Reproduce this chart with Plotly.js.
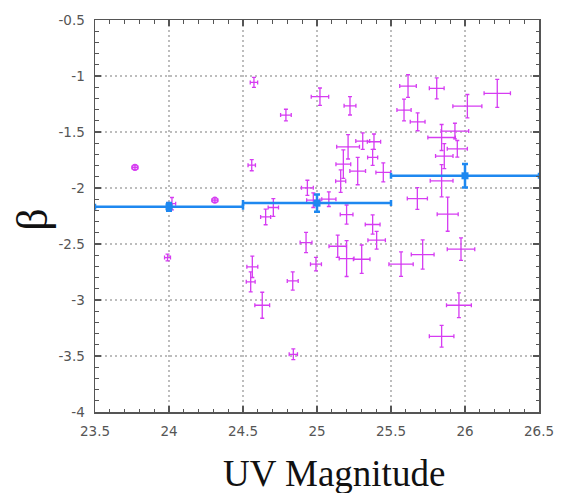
<!DOCTYPE html>
<html>
<head>
<meta charset="utf-8">
<script src="https://cdn.plot.ly/plotly-3.0.1.min.js"></script>
<style>html,body{margin:0;padding:0;background:#fff;}#chart{width:568px;height:493px;}</style>
</head>
<body>
<div id="chart"></div>
<script>
// Individual galaxies (crosses)
const magX = [24.02,24.574,24.79,24.559,24.653,24.705,24.563,24.552,24.63,24.836,24.84,23.99,
  25.02,25.223,25.21,25.309,25.385,25.376,25.178,25.275,25.448,25.16,24.935,24.975,25.08,
  25.2,25.376,25.403,24.926,25.14,25.2,25.302,25.568,24.993,
  25.615,25.809,26.218,26.016,25.588,25.68,25.932,25.842,25.948,25.86,25.842,25.678,25.883,
  25.714,25.973,25.959,25.842];
const magY = [-2.14,-1.057,-1.349,-1.796,-2.258,-2.174,-2.704,-2.838,-3.047,-2.83,-3.485,-2.621,
  -1.185,-1.266,-1.632,-1.581,-1.587,-1.727,-1.787,-1.849,-1.861,-1.939,-1.998,-2.109,-2.10,
  -2.237,-2.326,-2.466,-2.487,-2.52,-2.63,-2.636,-2.68,-2.68,
  -1.09,-1.11,-1.155,-1.269,-1.304,-1.409,-1.492,-1.549,-1.65,-1.715,-1.936,-2.094,-2.234,
  -2.594,-2.546,-3.047,-3.324];
const magXErr = [0.025,0.025,0.036,0.025,0.034,0.035,0.037,0.03,0.05,0.037,0.028,0.02,
  0.059,0.04,0.077,0.047,0.045,0.034,0.05,0.053,0.05,0.034,0.04,0.045,0.048,
  0.043,0.05,0.059,0.04,0.059,0.05,0.056,0.082,0.037,
  0.056,0.05,0.089,0.098,0.048,0.05,0.093,0.093,0.068,0.059,0.077,0.068,0.071,
  0.077,0.093,0.084,0.083];
const magYErr = [0.055,0.045,0.052,0.05,0.07,0.08,0.095,0.09,0.116,0.082,0.048,0.03,
  0.078,0.082,0.109,0.074,0.069,0.071,0.127,0.122,0.085,0.1,0.067,0.065,0.065,
  0.085,0.086,0.079,0.09,0.1,0.16,0.127,0.109,0.06,
  0.101,0.094,0.125,0.104,0.097,0.08,0.07,0.116,0.074,0.112,0.144,0.097,0.152,
  0.131,0.1,0.11,0.097];
// Bright sources with tiny errors (circles)
const brightX = [23.77,24.31];
const brightY = [-1.816,-2.109];
const brightErr = [0.02,0.02];
// Binned averages
const binX = [24.0,25.0,26.0];
const binY = [-2.168,-2.135,-1.891];
const binHalfWidth = [0.5,0.5,0.5];
const binYErr = [0.035,0.076,0.105];
// Tick labels
const yTickVals = [-4,-3.5,-3,-2.5,-2,-1.5,-1,-0.5];
const yTickText = ['-4','-3.5','-3','-2.5','-2','-1.5','-1','-0.5'];

const magenta = '#d63cf2';
const blue = '#1e88f0';

const traces = [
  {x: magX, y: magY, type:'scatter', mode:'markers',
   marker:{size:1, color:magenta},
   error_x:{type:'data', array:magXErr, visible:true, color:magenta, thickness:1.3, width:2},
   error_y:{type:'data', array:magYErr, visible:true, color:magenta, thickness:1.3, width:2},
   hoverinfo:'x+y', showlegend:false},
  {x: brightX, y: brightY, type:'scatter', mode:'markers',
   marker:{size:6, color:'rgba(214,60,242,0.35)', symbol:'circle', line:{color:magenta, width:1.2}},
   error_x:{type:'data', array:brightErr, visible:true, color:magenta, thickness:1.2, width:2},
   error_y:{type:'data', array:brightErr, visible:true, color:magenta, thickness:1.2, width:2},
   showlegend:false},
  {x: binX, y: binY, type:'scatter', mode:'markers',
   marker:{size:7, color:blue, symbol:'square'},
   error_x:{type:'data', array:binHalfWidth, visible:true, color:blue, thickness:2.5, width:3},
   error_y:{type:'data', array:binYErr, visible:true, color:blue, thickness:2.5, width:3},
   showlegend:false}
];

const axisCommon = {
  showline:true, linecolor:'#555', linewidth:1.5, mirror:'allticks',
  ticks:'inside', ticklen:6, tickcolor:'#555', tickwidth:1.2,
  showgrid:true, gridcolor:'#bdbdbd', griddash:'2px,3px', gridwidth:1.2,
  zeroline:false,
  tickfont:{family:'DejaVu Sans, sans-serif', size:13.5, color:'#555'},
  minor:{ticks:'inside', ticklen:3.5, dtick:0.1, tickcolor:'#555', tickwidth:1, showgrid:false}
};

const layout = {
  width:568, height:493,
  margin:{l:95, r:29, t:20, b:81},
  paper_bgcolor:'#fff', plot_bgcolor:'#fff',
  xaxis: Object.assign({}, axisCommon, {range:[23.5,26.5], dtick:0.5, tick0:23.5, ticklabelstandoff:6}),
  yaxis: Object.assign({}, axisCommon, {range:[-4,-0.5], tickmode:'array', tickvals:yTickVals, ticktext:yTickText, ticklabelstandoff:6}),
  annotations:[
    {text:'UV Magnitude', xref:'paper', yref:'paper', x:0.538, y:-0.158, xanchor:'center', yanchor:'middle',
     showarrow:false, font:{family:'Liberation Serif, DejaVu Serif, serif', size:37, color:'#111'}},
    {text:'β', xref:'paper', yref:'paper', x:-0.14, y:0.49, xanchor:'center', yanchor:'middle', textangle:-90,
     showarrow:false, font:{family:'Liberation Serif, DejaVu Serif, serif', size:44, color:'#111'}}
  ],
  showlegend:false
};

Plotly.newPlot('chart', traces, layout, {displayModeBar:false, staticPlot:true});
</script>
</body>
</html>
